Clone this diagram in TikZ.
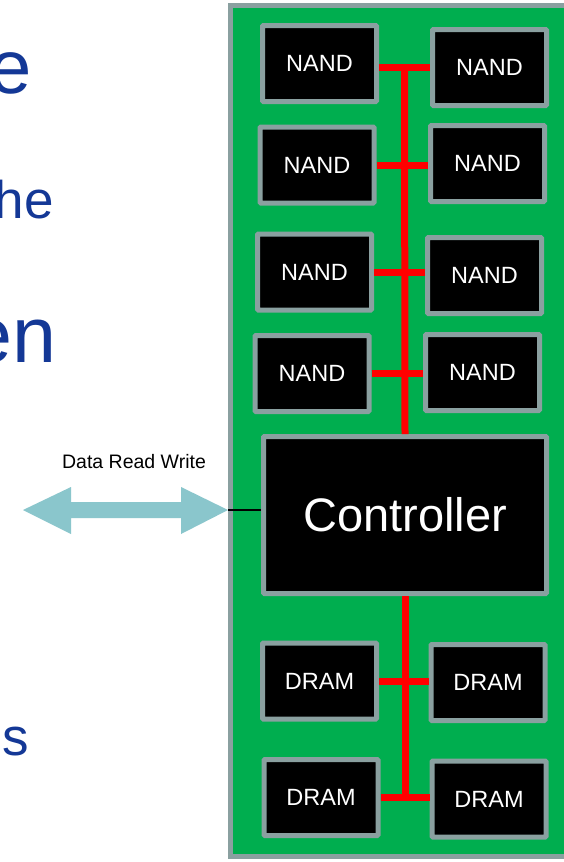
\documentclass[tikz,border=0pt]{standalone}
\usepackage{fontspec}
\setmainfont{Liberation Sans}
\usetikzlibrary{calc}
\definecolor{boardgreen}{RGB}{0,174,79}
\definecolor{chipgray}{RGB}{138,160,160}
\definecolor{slideblue}{RGB}{20,56,150}
\definecolor{arrowcyan}{RGB}{138,198,204}
\tikzset{
  chip/.style={draw=chipgray, line width=5pt, fill=black, rounded corners=1pt, text=white,
    minimum width=114pt, minimum height=76pt, inner sep=0pt, font=\fontsize{23.5}{28}\selectfont},
  ctrlbox/.style={chip, minimum width=283pt, minimum height=157pt, font=\fontsize{47}{56}\selectfont},
  bus/.style={draw=red, line width=7pt},
  frag/.style={text=slideblue, inner sep=0pt, anchor=base east},
}
\begin{document}
\begin{tikzpicture}[x=1pt,y=-1pt]
\clip (0,0) rectangle (564,862);
\fill[white] (0,0) rectangle (564,862);
% board
\draw[draw=chipgray, line width=5pt, fill=boardgreen] (230.5,5) rectangle (580,856.5);
% slide text fragments
\node[frag, font=\fontsize{76}{90}\selectfont] (t1) at (32,93) {e};
\node[frag, font=\fontsize{53}{64}\selectfont] (t2) at (54,218) {he};
\node[frag, font=\fontsize{79}{94}\selectfont] (t3) at (57,362) {en};
\node[frag, font=\fontsize{53}{64}\selectfont] (t4) at (29,755) {s};
% chips
\node[chip] (n1) at (319.5,63.5) {NAND};
\node[chip] (n2) at (489.5,67.5) {NAND};
\node[chip] (n3) at (317,165) {NAND};
\node[chip] (n4) at (487.5,163.5) {NAND};
\node[chip] (n5) at (314.5,272) {NAND};
\node[chip] (n6) at (484.5,275.5) {NAND};
\node[chip] (n7) at (312,373.5) {NAND};
\node[chip] (n8) at (482.5,372.5) {NAND};
\node[ctrlbox] (ctrl) at (405,515) {Controller};
\node[chip] (d1) at (319.5,681) {DRAM};
\node[chip] (d2) at (488,682.5) {DRAM};
\node[chip] (d3) at (321,797.5) {DRAM};
\node[chip] (d4) at (489,799) {DRAM};
% buses
\coordinate (bustop) at ($(n2.west -| n1.east)!0.5!(n2.west)$);
\coordinate (busbot) at ($(d3.east)!0.5!(d3.east -| d4.west)$);
\draw[bus] (bustop) -- (ctrl.north);
\draw[bus] (ctrl.south) -- (busbot);
\draw[bus] (n2.west -| n1.east) -- (n2.west);
\draw[bus] (n3.east) -- (n3.east -| n4.west);
\draw[bus] (n5.east) -- (n5.east -| n6.west);
\draw[bus] (n7.east) -- (n7.east -| n8.west);
\draw[bus] (d1.east) -- (d1.east -| d2.west);
\draw[bus] (d3.east) -- (d3.east -| d4.west);
% data arrow
\coordinate (atip) at (228,510);
\fill[arrowcyan] (23,510) -- (71,487) -- (71,502) -- (181,502) -- (181,487) -- (atip)
  -- (181,534) -- (181,518) -- (71,518) -- (71,534) -- cycle;
\draw[black, line width=2.8pt] (atip) -- (ctrl.west |- atip);
\node[font=\fontsize{19.5}{23}\selectfont, inner sep=0pt] (lbl) at (134,462) {Data Read Write};
\end{tikzpicture}
\end{document}
